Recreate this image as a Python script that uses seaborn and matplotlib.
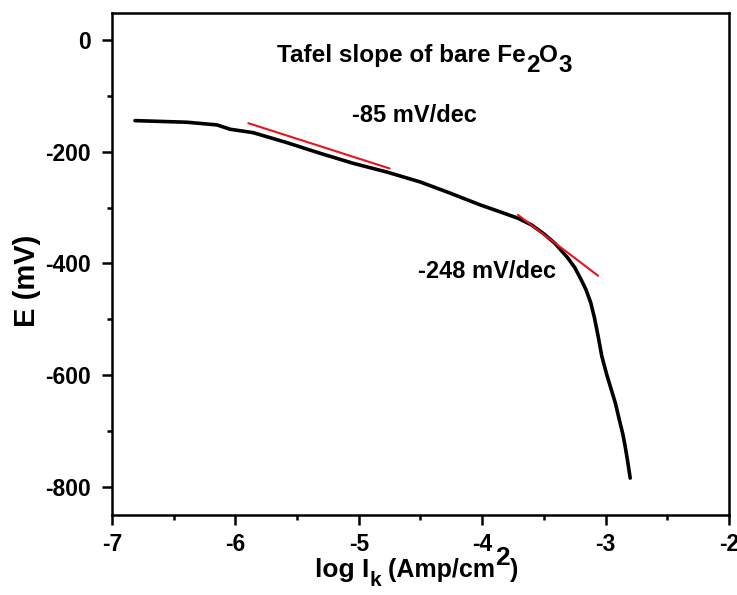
import numpy as np
import pandas as pd
import matplotlib
matplotlib.use("Agg")
import matplotlib.pyplot as plt
import seaborn as sns
from matplotlib.ticker import MultipleLocator
from matplotlib.transforms import IdentityTransform

# Tafel curve
log_ik = [-6.814, -6.392, -6.149, -6.044, -5.857, -5.582, -5.314, -5.047, -4.771,
          -4.504, -4.261, -4.018, -3.85, -3.71, -3.60, -3.50, -3.41, -3.31, -3.25,
          -3.20, -3.16, -3.12, -3.09, -3.06, -3.03, -2.99, -2.95, -2.92, -2.89,
          -2.86, -2.84, -2.82, -2.80]
e_mv = [-144.4, -147.3, -152.1, -159.8, -165.9, -183.8, -202.8, -220.7, -236.5,
        -254, -274, -295, -308, -319, -331, -347, -364, -389, -407,
        -428, -446, -470, -497, -530, -566, -599, -628, -650, -678,
        -705, -728, -755, -784]

# tangent fits (red)
fit1_x = [-5.895, -4.75]
fit1_y = [-149, -230]
fit2_x = [-3.71, -3.06]
fit2_y = [-313, -422]

slope_labels = ["-85 mV/dec", "-248 mV/dec"]
slope_pos = [(-5.055, -146.2), (-4.518, -426.5)]

sns.set_theme(style="ticks")
plt.rcParams["font.family"] = ["Liberation Sans", "DejaVu Sans"]
plt.rcParams["font.weight"] = "bold"
plt.rcParams["axes.unicode_minus"] = False
for k in ["text.color", "axes.labelcolor", "xtick.color", "ytick.color", "axes.edgecolor"]:
    plt.rcParams[k] = "black"

df = pd.DataFrame({"x": log_ik, "y": e_mv})

fig, ax = plt.subplots(figsize=(7.37, 5.95), dpi=100)
fig.subplots_adjust(left=0.152, right=0.989, top=0.978, bottom=0.1345)

sns.lineplot(data=df, x="x", y="y", sort=False, estimator=None, color="black", lw=2.6, ax=ax)
sns.lineplot(x=fit1_x, y=fit1_y, sort=False, estimator=None, color="#e8141b", lw=1.5, ax=ax)
sns.lineplot(x=fit2_x, y=fit2_y, sort=False, estimator=None, color="#e8141b", lw=1.5, ax=ax)

ax.set_xlim(-7, -2)
ax.set_ylim(-850, 48)
ax.xaxis.set_major_locator(MultipleLocator(1))
ax.xaxis.set_minor_locator(MultipleLocator(0.5))
ax.yaxis.set_major_locator(MultipleLocator(200))
ax.yaxis.set_minor_locator(MultipleLocator(100))
ax.tick_params(which="major", length=7, width=1.8, labelsize=16.5, pad=6)
ax.tick_params(axis="y", which="major", pad=8)
ax.tick_params(which="minor", length=3.5, width=1.8)
for lab in ax.get_xticklabels() + ax.get_yticklabels():
    lab.set_fontweight("bold")
for s in ax.spines.values():
    s.set_linewidth(1.8)
    s.set_visible(True)

ax.set_xlabel("")
ax.set_ylabel("E (mV)", fontsize=21, fontweight="bold")
ax.yaxis.set_label_coords(-0.115, 0.466)

for lab, (tx, ty) in zip(slope_labels, slope_pos):
    ax.text(tx, ty, lab, fontsize=17, fontweight="bold", ha="left", va="baseline")

# texts with full-size sub/superscripts, laid out piece by piece (pixel coords)
fig.canvas.draw()
renderer = fig.canvas.get_renderer()
H = fig.get_figheight() * fig.dpi


def pieces_text(x_px, base_px, pieces):
    x = x_px
    for s, size, dy in pieces:
        t = fig.text(x, H - base_px + dy, s, fontsize=size, fontweight="bold",
                     ha="left", va="baseline", transform=IdentityTransform())
        x = t.get_window_extent(renderer).x1


pieces_text(277, 61.7, [("Tafel slope of bare Fe", 17.5, 0), ("2", 17.5, -10),
                        ("O", 17.5, 0), ("3", 17.5, -10)])
pieces_text(315, 576.7, [("log I", 19, 0), ("k", 15, -9), (" (Amp/cm", 18, 0),
                         ("2", 19, 12), (")", 18, 0)])

plt.savefig("out.png", dpi=100)
plt.close()
